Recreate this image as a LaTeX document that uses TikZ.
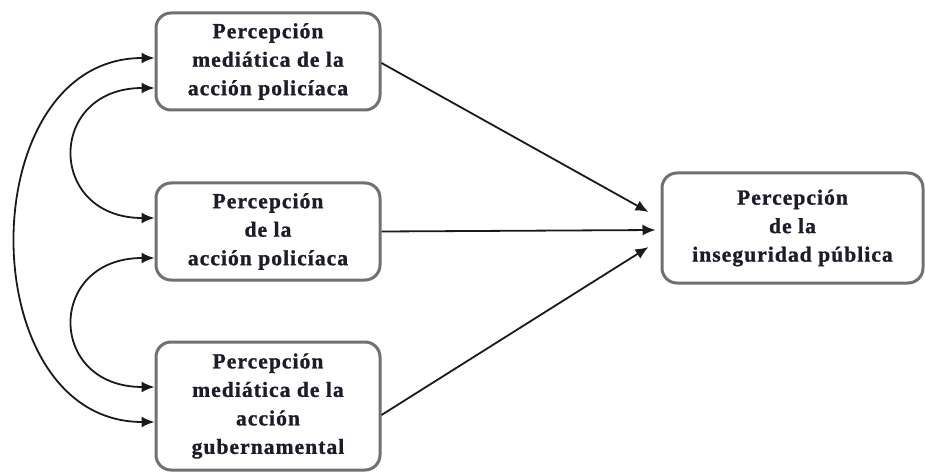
\documentclass[tikz,border=0pt]{standalone}
\usepackage{fontspec}
\setmainfont{Liberation Serif}[LetterSpace=5,BoldFeatures={FakeBold=1.2}]
\usetikzlibrary{arrows.meta,calc}
\definecolor{boxgray}{HTML}{707070}
\definecolor{txt}{HTML}{1C1C2A}
\definecolor{lnk}{HTML}{1A1A1A}
\begin{document}
\begin{tikzpicture}[x=1pt,y=-1pt,
  box/.style={draw=boxgray, line width=3pt, rounded corners=15pt, align=center,
    font=\bfseries\fontsize{21.5}{28.5}\selectfont, text=txt, inner sep=0pt},
  tip/.tip={Latex[length=13pt,width=11pt]},
  link/.style={line width=1.8pt, draw=lnk, -tip},
  twoway/.style={line width=1.8pt, draw=lnk, tip-tip}]
\useasboundingbox (0,0) rectangle (926,473);
\node[box, minimum width=224pt, minimum height=97pt] (b1) at (268,61.5) {Percepción\\mediática de la\\acción policíaca};
\node[box, minimum width=224pt, minimum height=97pt] (b2) at (268,231.5) {Percepción\\de la\\acción policíaca};
\node[box, minimum width=224pt, minimum height=128pt] (b3) at (268,406) {Percepción\\mediática de la\\acción\\gubernamental};
\node[box, minimum width=261pt, minimum height=110pt] (b4) at (792.5,228) {Percepción\\de la\\inseguridad pública};
% right arrows
\draw[link] ($(b1.east)+(0,1.5)$) -- ($(b4.west)+(-12,-16)$);
\draw[link] (b2.east) -- ($(b4.west)+(-5,2)$);
\draw[link] ($(b3.east)+(0,9)$) -- ($(b4.west)+(-12,19)$);
% left correlations
\draw[twoway] ($(b1.west)+(0,26.5)$) .. controls +(-108,0) and +(-108,0) .. ($(b2.west)+(0,-13.5)$);
\draw[twoway] ($(b2.west)+(0,26.5)$) .. controls +(-108,0) and +(-108,0) .. ($(b3.west)+(0,-19)$);
\draw[twoway] ($(b1.west)+(0,-3.5)$) .. controls +(-184,0) and +(-184,0) .. ($(b3.west)+(0,16)$);
\end{tikzpicture}
\end{document}
